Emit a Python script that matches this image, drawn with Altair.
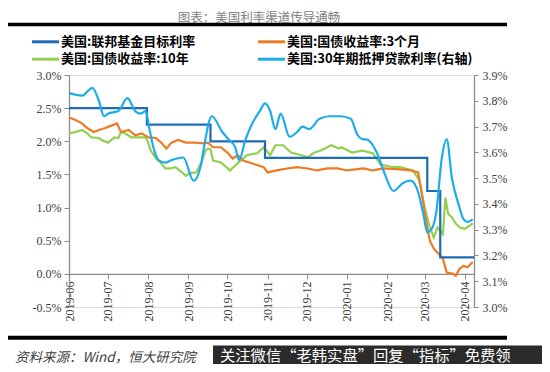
import altair as alt
import pandas as pd

# ---------------- data ----------------
fed_dates = ["2019-06-01", "2019-07-31", "2019-09-18", "2019-10-30",
             "2020-03-03", "2020-03-13", "2020-04-08"]
fed_vals = [2.50, 2.25, 2.00, 1.75, 1.25, 0.25, 0.25]

t3m_dates = ["2019-06-01", "2019-06-06", "2019-06-11", "2019-06-15", "2019-06-20", "2019-06-24",
             "2019-06-29", "2019-07-04", "2019-07-08", "2019-07-11", "2019-07-17", "2019-07-22",
             "2019-07-27", "2019-08-01", "2019-08-07", "2019-08-11", "2019-08-15", "2019-08-19",
             "2019-08-24", "2019-08-30", "2019-09-06", "2019-09-13", "2019-09-16", "2019-09-20",
             "2019-09-26", "2019-10-01", "2019-10-05", "2019-10-09", "2019-10-13", "2019-10-21",
             "2019-10-29", "2019-11-01", "2019-11-08", "2019-11-16", "2019-11-24", "2019-12-02",
             "2019-12-09", "2019-12-17", "2019-12-25", "2020-01-01", "2020-01-14", "2020-01-21",
             "2020-01-29", "2020-02-09", "2020-02-19", "2020-02-25", "2020-02-26", "2020-02-29",
             "2020-03-03", "2020-03-05", "2020-03-08", "2020-03-11", "2020-03-15", "2020-03-17",
             "2020-03-18", "2020-03-23", "2020-03-25", "2020-03-28", "2020-03-31", "2020-04-03",
             "2020-04-07"]
t3m_vals = [2.36, 2.32, 2.27, 2.20, 2.14, 2.17,
            2.20, 2.24, 2.27, 2.14, 2.17, 2.09,
            2.12, 2.06, 2.05, 1.98, 1.89, 1.98,
            2.02, 1.98, 1.98, 1.97, 1.98, 1.91,
            1.91, 1.83, 1.74, 1.79, 1.71, 1.66,
            1.61, 1.53, 1.56, 1.59, 1.61, 1.59,
            1.56, 1.59, 1.59, 1.56, 1.59, 1.56,
            1.59, 1.58, 1.56, 1.53, 1.41, 1.06,
            0.70, 0.50, 0.38, 0.32, 0.23, 0.09,
            0.02, 0.00, -0.03, 0.08, 0.12, 0.10,
            0.18]

t10_dates = ["2019-06-01", "2019-06-06", "2019-06-11", "2019-06-15", "2019-06-18", "2019-06-24",
             "2019-06-26", "2019-07-01", "2019-07-06", "2019-07-09", "2019-07-11", "2019-07-14",
             "2019-07-19", "2019-07-24", "2019-07-30", "2019-08-01", "2019-08-03", "2019-08-07",
             "2019-08-11", "2019-08-14", "2019-08-18", "2019-08-22", "2019-08-27", "2019-08-30",
             "2019-09-02", "2019-09-07", "2019-09-11", "2019-09-14", "2019-09-16", "2019-09-18",
             "2019-09-20", "2019-09-26", "2019-10-03", "2019-10-09", "2019-10-16", "2019-10-24",
             "2019-10-29", "2019-11-03", "2019-11-07", "2019-11-13", "2019-11-19", "2019-11-27",
             "2019-12-02", "2019-12-07", "2019-12-12", "2019-12-20", "2019-12-26", "2019-12-28",
             "2020-01-05", "2020-01-13", "2020-01-21", "2020-01-27", "2020-02-03", "2020-02-11",
             "2020-02-21", "2020-02-26", "2020-03-01", "2020-03-05", "2020-03-08", "2020-03-11",
             "2020-03-15", "2020-03-17", "2020-03-19", "2020-03-22", "2020-03-25", "2020-03-28",
             "2020-04-01", "2020-04-05", "2020-04-07"]
t10_vals = [2.12, 2.14, 2.17, 2.12, 2.06, 2.05,
            2.02, 1.98, 2.06, 2.05, 2.14, 2.12,
            2.06, 2.06, 2.06, 1.98, 1.86, 1.74,
            1.67, 1.59, 1.59, 1.61, 1.53, 1.48,
            1.52, 1.53, 1.68, 1.86, 1.89, 1.88,
            1.71, 1.68, 1.56, 1.67, 1.79, 1.82,
            1.91, 1.79, 1.94, 1.94, 1.83, 1.79,
            1.76, 1.83, 1.86, 1.94, 1.89, 1.91,
            1.83, 1.86, 1.82, 1.65, 1.62, 1.61,
            1.56, 1.41, 1.00, 0.70, 0.55, 0.70,
            0.60, 1.15, 0.91, 0.85, 0.76, 0.70,
            0.68, 0.73, 0.76]

mort_dates = ["2019-06-01", "2019-06-11", "2019-06-19", "2019-06-24", "2019-06-28", "2019-07-01",
              "2019-07-09", "2019-07-16", "2019-07-22", "2019-07-26", "2019-07-30", "2019-08-02",
              "2019-08-05", "2019-08-09", "2019-08-14", "2019-08-19", "2019-08-28", "2019-09-05",
              "2019-09-11", "2019-09-13", "2019-09-19", "2019-09-27", "2019-10-02", "2019-10-07",
              "2019-10-10", "2019-10-15", "2019-10-20", "2019-10-26", "2019-10-30", "2019-11-03",
              "2019-11-07", "2019-11-11", "2019-11-18", "2019-11-24", "2019-11-28", "2019-12-03",
              "2019-12-11", "2019-12-19", "2019-12-27", "2020-01-04", "2020-01-09", "2020-01-14",
              "2020-01-16", "2020-01-24", "2020-01-30", "2020-02-06", "2020-02-13", "2020-02-19",
              "2020-02-24", "2020-02-29", "2020-03-03", "2020-03-06", "2020-03-10", "2020-03-14",
              "2020-03-18", "2020-03-22", "2020-03-27", "2020-03-31", "2020-04-03", "2020-04-07"]
mort_vals = [3.83, 3.82, 3.85, 3.80, 3.74, 3.75,
             3.76, 3.81, 3.76, 3.75, 3.76, 3.69,
             3.62, 3.57, 3.56, 3.57, 3.58, 3.49,
             3.56, 3.62, 3.74, 3.68, 3.65, 3.62,
             3.57, 3.65, 3.71, 3.76, 3.79, 3.76,
             3.69, 3.75, 3.66, 3.68, 3.70, 3.69,
             3.73, 3.74, 3.74, 3.73, 3.67, 3.65,
             3.65, 3.60, 3.52, 3.45, 3.48, 3.49,
             3.46, 3.36, 3.29, 3.30, 3.37, 3.57,
             3.65, 3.50, 3.40, 3.34, 3.33, 3.34]

series_names = ["美国:联邦基金目标利率", "美国:国债收益率:3个月",
                "美国:国债收益率:10年", "美国:30年期抵押贷款利率(右轴)"]
series_colors = ["#1f6cb4", "#ee7a24", "#92d050", "#1badea"]

left_ticks = [-0.5, 0.0, 0.5, 1.0, 1.5, 2.0, 2.5, 3.0]
right_ticks = [3.0, 3.1, 3.2, 3.3, 3.4, 3.5, 3.6, 3.7, 3.8, 3.9]
month_ticks = [(2019, m) for m in range(6, 13)] + [(2020, m) for m in range(1, 5)]

chart_title = "图表：美国利率渠道传导通畅"
source_text = "资料来源：Wind，恒大研究院"
banner_text = "关注微信“老韩实盘”回复“指标”免费领"

# ---------------- chart ----------------
SERIF = "Liberation Serif"
CJK = "Noto Sans CJK SC"
AX_COLOR = "#8c8c8c"
LBL_COLOR = "#404040"


def frame(d, v):
    return pd.DataFrame({"date": d, "value": v})


x_enc = alt.X(
    "date:T",
    title=None,
    scale=alt.Scale(domain=[alt.DateTime(year=2019, month=6, date=1, utc=True),
                            alt.DateTime(year=2020, month=4, date=8, utc=True)]),
    axis=alt.Axis(
        values=[alt.DateTime(year=y, month=m, date=1, utc=True) for y, m in month_ticks],
        labelExpr="utcFormat(datum.value, '%Y-%m')",
        labelAngle=270, labelAlign="right", labelBaseline="middle",
        offset=-33.1, tickSize=5, labelPadding=2,
        labelFont=SERIF, labelFontSize=12, labelColor=LBL_COLOR,
        domainColor=AX_COLOR, tickColor=AX_COLOR, domainWidth=1.3,
        grid=False, labelOverlap=False, labelFlush=False,
    ),
)

pct_expr = "(datum.value < 0 ? '-' : '') + format(abs(datum.value), '.1f') + '%'"

y_left = alt.Y(
    "value:Q", title=None,
    scale=alt.Scale(domain=[-0.5, 3.0], nice=False, zero=False),
    axis=alt.Axis(values=left_ticks, labelExpr=pct_expr, orient="left",
                  tickSize=5, labelPadding=3, labelFont=SERIF, labelFontSize=12,
                  labelColor=LBL_COLOR, domainColor=AX_COLOR, tickColor=AX_COLOR,
                  domainWidth=1.3, grid=False),
)

y_right = alt.Y(
    "value:Q", title=None,
    scale=alt.Scale(domain=[3.0, 3.9], nice=False, zero=False),
    axis=alt.Axis(values=right_ticks, labelExpr=pct_expr, orient="right",
                  tickSize=4, labelPadding=4, labelFont=SERIF, labelFontSize=12,
                  labelColor=LBL_COLOR, domainColor=AX_COLOR, tickColor=AX_COLOR,
                  domainWidth=1.3, grid=False),
)

green = alt.Chart(frame(t10_dates, t10_vals)).mark_line(
    strokeWidth=2.2, color=series_colors[2]).encode(x=x_enc, y=y_left)
orange = alt.Chart(frame(t3m_dates, t3m_vals)).mark_line(
    strokeWidth=2.2, color=series_colors[1]).encode(x=x_enc, y=y_left)
fed = alt.Chart(frame(fed_dates, fed_vals)).mark_line(
    strokeWidth=2.2, color=series_colors[0], interpolate="step-after").encode(x=x_enc, y=y_left)
left_layer = alt.layer(green, orange, fed)

cyan = alt.Chart(frame(mort_dates, mort_vals)).mark_line(
    strokeWidth=2.2, color=series_colors[3], interpolate="monotone").encode(x=x_enc, y=y_right)

one = pd.DataFrame({"k": [0]})


def text_layer(txt, x, y, **kw):
    return alt.Chart(pd.DataFrame({"t": [txt]})).mark_text(**kw).encode(
        x=alt.value(x), y=alt.value(y), text="t:N")


def hrule(x1, x2, y, color, width):
    return alt.Chart(one).mark_rule(color=color, strokeWidth=width).encode(
        x=alt.value(x1), x2=alt.value(x2), y=alt.value(y))


decor = [
    text_layer(chart_title, 190, -57.5, font=CJK, fontSize=12.5, color="#7f7f7f",
               align="center", baseline="middle"),
    hrule(-62, 438, -50.4, "black", 3.5),
    hrule(-62, 438, 262.8, "black", 4),
    text_layer(source_text, -54, 282.5, font=CJK, fontSize=13.5, fontStyle="italic",
               color="#404040", align="left", baseline="middle"),
    alt.Chart(one).mark_rect(color="#2b2b2b").encode(
        x=alt.value(144), x2=alt.value(473), y=alt.value(270.5), y2=alt.value(289)),
    text_layer(banner_text, 151, 280.5, font=CJK, fontSize=15.3, color="white",
               align="left", baseline="middle"),
]

legend_pos = [(-37, -33.2), (189, -33.2), (-37, -15.8), (189, -15.8)]
for name, col, (lx, ly) in zip(series_names, series_colors, legend_pos):
    decor.append(hrule(lx, lx + 27, ly, col, 3))
    decor.append(text_layer(name, lx + 29, ly, font=CJK, fontSize=13, fontWeight="bold",
                            color="black", align="left", baseline="middle"))

chart = alt.layer(left_layer, cyan, *decor).resolve_scale(y="independent").properties(
    width=405, height=232,
    padding={"left": 61, "top": 67, "right": 68, "bottom": 57},
    autosize=alt.AutoSizeParams(type="none"),
).configure_view(stroke=None).configure(background="white")

chart.save("out.html", embed_options={"renderer": "svg", "actions": False})
